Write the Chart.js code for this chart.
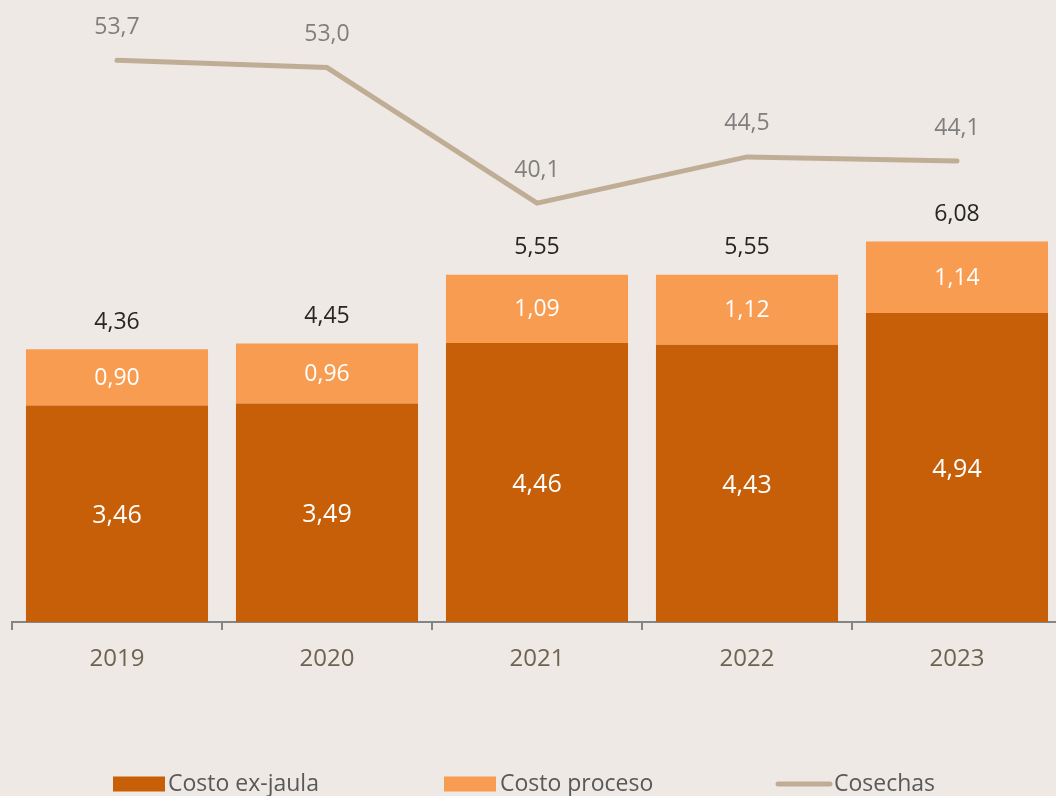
<!DOCTYPE html>
<html>
<head>
<meta charset="utf-8">
<script src="https://cdn.jsdelivr.net/npm/chart.js@4"></script>
<style>
    html, body { margin: 0; padding: 0; background: #EEE9E5; overflow: hidden; }
    #costChart { display: block; }
</style>
</head>
<body>
<canvas id="costChart" width="1070" height="796"></canvas>
<script>
const years = ['2019', '2020', '2021', '2022', '2023'];
const costoExJaula = [3.46, 3.49, 4.46, 4.43, 4.94];
const costoProceso = [0.90, 0.96, 1.09, 1.12, 1.14];
const cosechas = [53.7, 53.0, 40.1, 44.5, 44.1];

const darkOrange = '#C75F08';
const lightOrange = '#F89C52';
const lineColor = '#C0AD96';
const font = '"Open Sans", "Noto Sans", sans-serif';

// Format numbers with comma as decimal separator
function fmt(v, digits) {
    return v.toFixed(digits).replace('.', ',');
}

// Draws the value labels on bars and line points
const valueLabels = {
    id: 'valueLabels',
    afterDatasetsDraw(chart) {
        const ctx = chart.ctx;
        ctx.save();
        ctx.textAlign = 'center';
        ctx.textBaseline = 'middle';

        const exMeta = chart.getDatasetMeta(0);
        const prMeta = chart.getDatasetMeta(1);
        const lineMeta = chart.getDatasetMeta(2);

        ctx.font = '25px ' + font;
        ctx.fillStyle = '#FFFFFF';
        exMeta.data.forEach((bar, i) => {
            ctx.fillText(fmt(costoExJaula[i], 2), bar.x, (bar.y + bar.base) / 2 + 2);
        });
        ctx.font = '23px ' + font;
        prMeta.data.forEach((bar, i) => {
            ctx.fillText(fmt(costoProceso[i], 2), bar.x, (bar.y + bar.base) / 2 + 1);
        });

        // totals above the stacks
        ctx.fillStyle = '#262626';
        prMeta.data.forEach((bar, i) => {
            ctx.fillText(fmt(costoExJaula[i] + costoProceso[i], 2), bar.x, bar.y - 27);
        });

        // line values
        ctx.fillStyle = '#7F7F7F';
        lineMeta.data.forEach((pt, i) => {
            ctx.fillText(fmt(cosechas[i], 1), pt.x, pt.y - 33);
        });
        ctx.restore();
    }
};

// Bottom legend, drawn by hand to keep the wide spacing
const bottomLegend = {
    id: 'bottomLegend',
    afterDraw(chart) {
        const ctx = chart.ctx;
        const y = 784;
        ctx.save();
        ctx.font = '23px ' + font;
        ctx.textBaseline = 'middle';
        ctx.textAlign = 'left';

        ctx.fillStyle = darkOrange;
        ctx.fillRect(113, y - 7.5, 52, 15);
        ctx.fillStyle = lightOrange;
        ctx.fillRect(444, y - 7.5, 52, 15);
        ctx.strokeStyle = lineColor;
        ctx.lineWidth = 5;
        ctx.lineCap = 'round';
        ctx.beginPath();
        ctx.moveTo(778, y);
        ctx.lineTo(830, y);
        ctx.stroke();

        ctx.fillStyle = '#595959';
        ctx.fillText('Costo ex-jaula', 168, y);
        ctx.fillText('Costo proceso', 500, y);
        ctx.fillText('Cosechas', 834, y);
        ctx.restore();
    }
};

const costChart = new Chart(document.getElementById('costChart').getContext('2d'), {
    data: {
        labels: years,
        datasets: [
            {
                type: 'bar',
                label: 'Costo ex-jaula',
                data: costoExJaula,
                backgroundColor: darkOrange,
                yAxisID: 'y',
                order: 1,
                barPercentage: 0.867,
                categoryPercentage: 1
            },
            {
                type: 'bar',
                label: 'Costo proceso',
                data: costoProceso,
                backgroundColor: lightOrange,
                yAxisID: 'y',
                order: 1,
                barPercentage: 0.867,
                categoryPercentage: 1
            },
            {
                type: 'line',
                label: 'Cosechas',
                data: cosechas,
                borderColor: lineColor,
                borderWidth: 5,
                borderCapStyle: 'round',
                pointRadius: 0,
                fill: false,
                tension: 0,
                yAxisID: 'y1',
                order: 0
            }
        ]
    },
    options: {
        responsive: false,
        animation: false,
        layout: {
            padding: { left: 12, right: 8, top: 0, bottom: 0 }
        },
        plugins: {
            legend: { display: false },
            tooltip: { enabled: false }
        },
        scales: {
            x: {
                stacked: true,
                offset: true,
                grid: {
                    offset: true,
                    drawOnChartArea: false,
                    drawTicks: true,
                    tickLength: 8,
                    color: '#858585',
                    lineWidth: 2
                },
                border: { color: '#858585', width: 2 },
                ticks: {
                    color: '#6E6352',
                    font: { family: font, size: 24 },
                    padding: 15
                },
                afterFit(scale) {
                    scale.height = 174;
                }
            },
            y: {
                stacked: true,
                display: false,
                min: 0,
                max: 9.94
            },
            y1: {
                display: false,
                position: 'right',
                min: 0.25,
                max: 59.43
            }
        }
    },
    plugins: [valueLabels, bottomLegend]
});
</script>
</body>
</html>
